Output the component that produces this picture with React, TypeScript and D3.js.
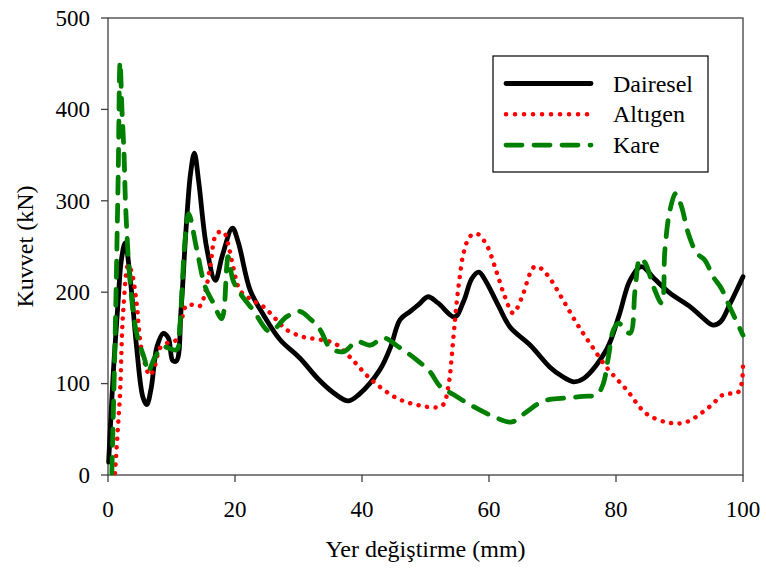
import React from 'react';
import * as d3 from 'd3';

// Dairesel (solid black)
const daireselX = [0.1, 0.8, 1.6, 2.1, 2.7, 3.5, 4.5, 5.5, 6.1, 6.8, 7.7, 8.7, 9.5, 10.2, 10.8, 11.5, 12.3, 13, 13.6, 14.3, 15.5, 16.9, 18, 19.6, 20.5, 22.4, 24.5, 27.1, 30.2, 33.1, 35.5, 37.8, 39.5, 42.8, 44.5, 46, 47.6, 49, 50.4, 52, 54.6, 56, 57.3, 58.4, 59.5, 61.5, 63.3, 66.5, 69.6, 71.5, 73.3, 75, 78.5, 80.5, 82.2, 84, 86, 88.5, 91.7, 93.5, 95.3, 96.5, 98, 100];
const daireselY = [14, 108, 191, 235, 254, 215, 140, 85, 77, 95, 140, 155, 150, 125, 125, 180, 270, 330, 352, 320, 250, 213, 240, 270, 255, 202, 175, 148, 128, 105, 90, 81, 88, 115, 140, 170, 179, 187, 195, 188, 173, 190, 215, 222, 212, 185, 162, 142, 118, 108, 102, 106, 137, 175, 213, 228, 215, 199, 184, 173, 164, 168, 188, 217];

// Altıgen (red dotted)
const altigenX = [1.1, 1.5, 1.9, 2.4, 3.2, 3.8, 4.5, 5.3, 6.6, 7.4, 8.2, 9.5, 10.8, 11.6, 12.4, 13.5, 14.5, 15.3, 16.1, 17.1, 18.2, 19, 19.7, 20.8, 22.5, 24.5, 26.5, 28.1, 30.8, 33.4, 35.7, 38.1, 41.5, 45.5, 49.1, 51.8, 52.8, 53.6, 54.4, 54.9, 55.4, 56, 57, 58.1, 59.6, 61.2, 62.5, 63.8, 65.1, 66.5, 67.2, 68.2, 69.6, 71.7, 73.8, 75.9, 78.5, 81.7, 84.8, 88.5, 91.1, 94.8, 96.9, 99.3, 100];
const altigenY = [2, 45, 90, 180, 230, 220, 188, 137, 109, 120, 139, 145, 148, 170, 186, 186, 185, 200, 228, 264, 266, 250, 228, 202, 192, 184, 170, 159, 151, 148, 144, 129, 104, 84, 76, 74, 77, 97, 151, 188, 217, 243, 261, 264, 252, 222, 195, 177, 193, 221, 228, 226, 215, 191, 166, 144, 118, 93, 67, 57, 58, 75, 88, 91, 120];

// Kare (green dashed)
const kareX = [0.6, 1.1, 1.6, 1.9, 2.2, 2.5, 2.8, 3.5, 4.5, 5.8, 6.3, 7.4, 8.7, 10.8, 11.3, 12.1, 12.7, 14, 15.3, 16.6, 17.9, 18.7, 18.9, 19.7, 20.8, 22.9, 25.5, 28.1, 30.2, 31.8, 33.4, 35, 37.1, 39.2, 41.3, 43.4, 46, 48.6, 50.7, 52.3, 54.4, 57.5, 60.7, 63.6, 65.9, 68.6, 71.7, 74.8, 77, 78, 78.8, 79.6, 80.4, 82.2, 83, 83.8, 84.6, 85.9, 87.2, 87.7, 88.5, 89.4, 90.3, 91.4, 92.7, 94, 95.3, 96.6, 97.9, 100];
const kareY = [2, 144, 326, 452, 399, 356, 290, 210, 155, 126, 113, 129, 140, 137, 162, 254, 286, 246, 206, 188, 171, 228, 239, 213, 199, 180, 157, 173, 179, 171, 159, 139, 135, 146, 142, 150, 139, 126, 113, 97, 88, 75, 64, 58, 69, 81, 84, 86, 88, 100, 129, 159, 166, 155, 202, 237, 232, 206, 188, 246, 290, 308, 294, 264, 243, 235, 217, 204, 184, 153];

const xTicks = [0, 20, 40, 60, 80, 100];
const yTicks = [0, 100, 200, 300, 400, 500];

const series = [
  { name: 'Dairesel', xs: daireselX, ys: daireselY, color: '#000000', width: 4.8, dash: undefined as string | undefined },
  { name: 'Altıgen', xs: altigenX, ys: altigenY, color: '#ff0000', width: 4.5, dash: '0.1 8.5' },
  { name: 'Kare', xs: kareX, ys: kareY, color: '#008000', width: 4.8, dash: '16 12' },
];

const serif = '"Times New Roman", "Liberation Serif", Tinos, serif';

export default function App() {
  const W = 766, H = 570;
  const left = 108, right = 743, top = 18, bottom = 475;

  const x = d3.scaleLinear().domain([0, 100]).range([left, right]);
  const y = d3.scaleLinear().domain([0, 500]).range([bottom, top]);

  const line = d3.line<[number, number]>()
    .x(d => x(d[0]))
    .y(d => y(d[1]))
    .curve(d3.curveCatmullRom.alpha(0.5));

  const legendX = 493, legendY = 56;
  const tx = { fontFamily: serif };

  return (
    <svg width={W} height={H} style={{ position: 'absolute', left: 0, top: 0, background: '#fff', fontFamily: serif }}>
      <rect x={0} y={0} width={W} height={H} fill="#fff" />
      {/* plot frame */}
      <rect x={left} y={top} width={right - left} height={bottom - top} fill="none" stroke="#404040" strokeWidth={1.3} />

      {/* y ticks */}
      {yTicks.map(t => (
        <g key={'y' + t}>
          <line x1={left - 7} x2={left} y1={y(t)} y2={y(t)} stroke="#404040" strokeWidth={1.3} />
          <text x={left - 18} y={y(t)} dy="0.34em" textAnchor="end" fontSize={23} style={tx}>{String(t)}</text>
        </g>
      ))}

      {/* x ticks */}
      {xTicks.map(t => (
        <g key={'x' + t}>
          <line x1={x(t)} x2={x(t)} y1={bottom} y2={bottom + 7} stroke="#404040" strokeWidth={1.3} />
          <text x={x(t)} y={517} textAnchor="middle" fontSize={23} style={tx}>{String(t)}</text>
        </g>
      ))}

      {/* series */}
      {series.map(s => (
        <path
          key={s.name}
          d={line(s.xs.map((v, i) => [v, s.ys[i]] as [number, number])) || ''}
          fill="none"
          stroke={s.color}
          strokeWidth={s.width}
          strokeDasharray={s.dash}
          strokeLinecap="round"
          strokeLinejoin="round"
        />
      ))}

      {/* axis titles */}
      <text x={(left + right) / 2} y={557} textAnchor="middle" fontSize={24} style={tx}>Yer değiştirme (mm)</text>
      <text transform={`translate(33,${(top + bottom) / 2}) rotate(-90)`} textAnchor="middle" fontSize={24} style={tx}>Kuvvet (kN)</text>

      {/* legend */}
      <rect x={legendX} y={legendY} width={215} height={116} fill="#fff" stroke="#000" strokeWidth={1.2} />
      {series.map((s, i) => {
        const ly = 83.5 + i * 30.8;
        return (
          <g key={'lg' + s.name}>
            <line x1={506} x2={591} y1={ly} y2={ly} stroke={s.color} strokeWidth={s.width}
              strokeDasharray={s.name === 'Altıgen' ? '0.1 8.9' : s.name === 'Kare' ? '16 12' : undefined}
              strokeLinecap="round" />
            <text x={613} y={ly + 8} fontSize={24} style={tx}>{s.name}</text>
          </g>
        );
      })}
    </svg>
  );
}
